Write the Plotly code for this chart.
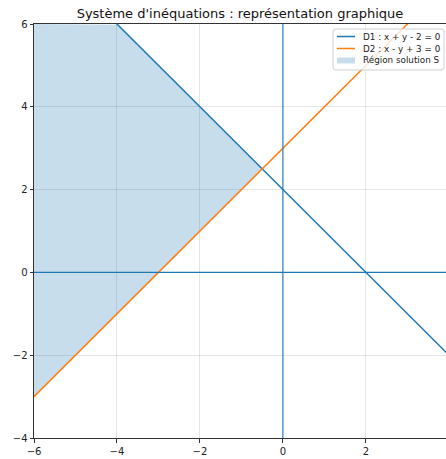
import numpy as np
import plotly.graph_objects as go

# Data
title_text = "Système d'inéquations : représentation graphique"
d1_label = "D1 : x + y - 2 = 0"
d2_label = "D2 : x - y + 3 = 0"
region_label = "Région solution S"
x_line = [-6, -4, -2, 0, 2, 4, 6]
d1_y = [2 - x for x in x_line]          # x + y - 2 = 0
d2_y = [x + 3 for x in x_line]          # x - y + 3 = 0
x_ticks = [-6, -4, -2, 0, 2, 4]
y_ticks = [-4, -2, 0, 2, 4, 6]
x_range = [-6, 3.93]
y_range = [-4, 6]
y_top = 6
x_inter = -0.5

xs = np.linspace(-6, x_inter, 200)
lower = xs + 3
upper = np.minimum(y_top, 2 - xs)

C0 = "#1f77b4"
C1 = "#ff7f0e"
FILL = "rgba(31,119,180,0.25)"

W, H = 446, 459
ML, MR, MT, MB = 34, 0, 24, 21
PW, PH = W - ML - MR, H - MT - MB


def px(x):
    return (x - ML) / PW


def py(y):
    return 1 - (y - MT) / PH


fig = go.Figure()
fig.add_trace(go.Scatter(x=xs, y=lower, mode="lines", line=dict(width=0),
                         showlegend=False, hoverinfo="skip"))
fig.add_trace(go.Scatter(x=xs, y=upper, mode="lines", line=dict(width=0),
                         fill="tonexty", fillcolor=FILL,
                         name=region_label, showlegend=False))
fig.add_trace(go.Scatter(x=x_line, y=d1_y, mode="lines", line=dict(color=C0, width=1.5),
                         name=d1_label, showlegend=False))
fig.add_trace(go.Scatter(x=x_line, y=d2_y, mode="lines", line=dict(color=C1, width=1.5),
                         name=d2_label, showlegend=False))
# axes lines x=0, y=0
fig.add_trace(go.Scatter(x=[x_range[0] - 1, 7], y=[0, 0], mode="lines",
                         line=dict(color=C0, width=1.1), showlegend=False))
fig.add_trace(go.Scatter(x=[0, 0], y=[y_range[0] - 1, y_range[1] + 1], mode="lines",
                         line=dict(color=C0, width=1.1), showlegend=False))

# Custom legend (matplotlib-like)
shapes = []
annotations = []
bx0, bx1, by0, by1 = 333, 444, 29, 70
r = 3
path = (f"M {px(bx0 + r)},{py(by0)} L {px(bx1 - r)},{py(by0)} "
        f"Q {px(bx1)},{py(by0)} {px(bx1)},{py(by0 + r)} "
        f"L {px(bx1)},{py(by1 - r)} Q {px(bx1)},{py(by1)} {px(bx1 - r)},{py(by1)} "
        f"L {px(bx0 + r)},{py(by1)} Q {px(bx0)},{py(by1)} {px(bx0)},{py(by1 - r)} "
        f"L {px(bx0)},{py(by0 + r)} Q {px(bx0)},{py(by0)} {px(bx0 + r)},{py(by0)} Z")
shapes.append(dict(type="path", xref="paper", yref="paper", path=path,
                   fillcolor="rgba(255,255,255,0.8)", line=dict(color="#d0d0d0", width=1),
                   layer="above"))
items = [(d1_label, "line", C0, 36.5), (d2_label, "line", C1, 48.5), (region_label, "patch", FILL, 60.5)]
for label, kind, col, yy in items:
    if kind == "line":
        shapes.append(dict(type="line", xref="paper", yref="paper",
                           x0=px(337), x1=px(355), y0=py(yy), y1=py(yy),
                           line=dict(color=col, width=1.5), layer="above"))
    else:
        shapes.append(dict(type="rect", xref="paper", yref="paper",
                           x0=px(337), x1=px(355), y0=py(yy - 3), y1=py(yy + 3),
                           fillcolor=col, line=dict(width=0), layer="above"))
    annotations.append(dict(text=label, xref="paper", yref="paper", x=px(361), y=py(yy),
                            xanchor="left", yanchor="middle", showarrow=False,
                            font=dict(size=8.8, color="#222")))

fig.update_layout(
    width=W, height=H,
    margin=dict(l=ML, r=MR, t=MT, b=MB),
    paper_bgcolor="white", plot_bgcolor="white",
    font=dict(family="DejaVu Sans", size=10, color="#222"),
    title=dict(text=title_text, x=0.5, xref="paper", xanchor="center",
               y=1 - 13 / H, yref="container", yanchor="middle",
               font=dict(size=13, color="#111")),
    showlegend=False,
    shapes=shapes,
    annotations=annotations,
)
fig.update_xaxes(range=x_range, tickvals=x_ticks,
                 ticktext=["\u2212" + str(abs(v)) if v < 0 else str(v) for v in x_ticks],
                 showgrid=True, gridcolor="rgba(0,0,0,0.1)", gridwidth=1, automargin=False,
                 zeroline=False, showline=True, linecolor="#333", linewidth=1,
                 mirror=True, ticks="outside", ticklen=3.5, tickcolor="#333")
fig.update_yaxes(range=y_range, tickvals=y_ticks,
                 ticktext=["\u2212" + str(abs(v)) if v < 0 else str(v) for v in y_ticks],
                 showgrid=True, gridcolor="rgba(0,0,0,0.1)", gridwidth=1, automargin=False,
                 zeroline=False, showline=True, linecolor="#333", linewidth=1,
                 ticks="outside", ticklen=3.5, tickcolor="#333")

fig.write_html("out.html", config={"displayModeBar": False},
               post_script="document.body.style.margin='0px';")
